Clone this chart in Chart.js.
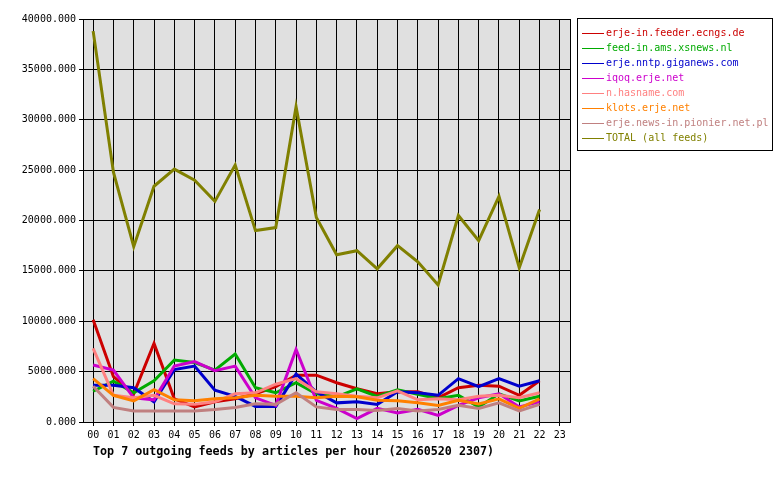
<!DOCTYPE html>
<html>
<head>
<meta charset="utf-8">
<script src="https://cdn.jsdelivr.net/npm/chart.js@4/dist/chart.umd.min.js"></script>
<style>
  body { margin: 0; background: #fff; font-family: "DejaVu Sans Mono", monospace; }
  #wrap { position: relative; width: 780px; height: 480px; }
  #legend { position: absolute; left: 577px; top: 18px; width: 196px; height: 133px; border: 1px solid #000; box-sizing: border-box; padding: 6px 0 0 4px; font-size: 10px; }
  #legend div { height: 15px; line-height: 15px; white-space: nowrap; }
  #legend span.m { display: inline-block; width: 22px; height: 1px; vertical-align: middle; margin-right: 2px; }
  #title { position: absolute; left: 93px; top: 444px; font-size: 11.7px; font-weight: bold; }
</style>
</head>
<body>
<div id="wrap">
  <canvas id="c" width="780" height="480"></canvas>
  <div id="legend"></div>
  <div id="title">Top 7 outgoing feeds by articles per hour (20260520 2307)</div>
</div>
<script>
const hours = ['00','01','02','03','04','05','06','07','08','09','10','11','12','13','14','15','16','17','18','19','20','21','22','23'];
const feedNames = ['erje-in.feeder.ecngs.de','feed-in.ams.xsnews.nl','erje.nntp.giganews.com','iqoq.erje.net','n.hasname.com','klots.erje.net','erje.news-in.pionier.net.pl','TOTAL (all feeds)'];
const feedColors = ['#cc0000','#00aa00','#0000cc','#cc00cc','#ff8080','#ff8000','#c08080','#808000'];

const ecngs = [10150,4500,2800,7800,2300,1500,2000,2300,2800,3500,4650,4650,3900,3300,2800,3000,3000,2400,3400,3650,3550,2650,4100];
const xsnews = [3050,4050,2900,4100,6150,5900,5150,6750,3400,2900,3900,2800,2500,3300,2550,3200,2750,2300,2650,1500,2800,2100,2550];
const giganews = [3650,3650,3400,2000,5200,5550,3150,2550,1550,1550,4750,3000,1900,2000,1750,3000,2900,2650,4300,3500,4300,3550,4100];
const iqoq = [5650,5150,2400,2200,5550,6000,5100,5550,2400,1650,7200,2150,1350,350,1350,900,1250,650,1650,2400,2800,1500,2000];
const hasname = [7300,2650,2400,2650,1800,1750,2000,2800,2900,3750,4300,3000,2800,2550,2400,3100,2200,2300,2200,2550,2650,2400,2900];
const klots = [4300,2650,2100,3200,2200,2100,2300,2400,2650,2550,2550,2400,2550,2500,2150,2100,1900,1650,2150,1800,2300,1350,2300];
const pionier = [3550,1450,1100,1100,1100,1100,1250,1450,1800,1750,2900,1500,1250,1250,1150,1350,1100,1250,1650,1350,1900,1100,1750];
const total = [38800,24800,17400,23400,25100,24000,21900,25500,19000,19300,31300,20300,16600,17000,15200,17500,15900,13600,20500,18000,22400,15300,21100];

const series = [ecngs, xsnews, giganews, iqoq, hasname, klots, pionier, total];

const legend = document.getElementById('legend');
feedNames.forEach((n, i) => {
    const d = document.createElement('div');
    d.style.color = feedColors[i];
    d.innerHTML = `<span class="m" style="background:${feedColors[i]}"></span>${n}`;
    legend.appendChild(d);
});

const plotBg = {
    id: 'plotBg',
    beforeDraw(chart) {
        const { ctx, chartArea: a } = chart;
        ctx.save();
        ctx.fillStyle = '#e0e0e0';
        ctx.fillRect(a.left, a.top, a.right - a.left, a.bottom - a.top);
        ctx.restore();
    },
    afterDraw(chart) {
        const { ctx, chartArea: a } = chart;
        ctx.save();
        ctx.strokeStyle = '#000';
        ctx.lineWidth = 1;
        ctx.strokeRect(a.left + 0.5, a.top + 0.5, a.right - a.left, a.bottom - a.top);
        ctx.restore();
    }
};

const font = { family: 'DejaVu Sans Mono', size: 10 };

new Chart(document.getElementById('c'), {
    type: 'line',
    data: {
        labels: hours,
        datasets: series.map((d, i) => ({
            label: feedNames[i], data: d, borderColor: feedColors[i],
            borderWidth: 3, pointRadius: 0, tension: 0
        })).reverse()
    },
    options: {
        responsive: false, animation: false,
        layout: { padding: { left: 0, right: 210, top: 19, bottom: 0 } },
        plugins: { legend: { display: false }, tooltip: { enabled: false } },
        scales: {
            x: {
                offset: true,
                grid: { color: '#000', offset: false, drawTicks: true, tickLength: 4 },
                border: { color: '#000' },
                ticks: { color: '#000', font, maxRotation: 0, autoSkip: false },
                afterFit: s => { s.height = 58; }
            },
            y: {
                min: 0, max: 40000,
                grid: { color: '#000', tickLength: 4 },
                border: { color: '#000' },
                ticks: { color: '#000', font, stepSize: 5000, callback: v => v.toFixed(3) },
                afterFit: s => { s.width = 83; }
            }
        }
    },
    plugins: [plotBg]
});
</script>
</body>
</html>
